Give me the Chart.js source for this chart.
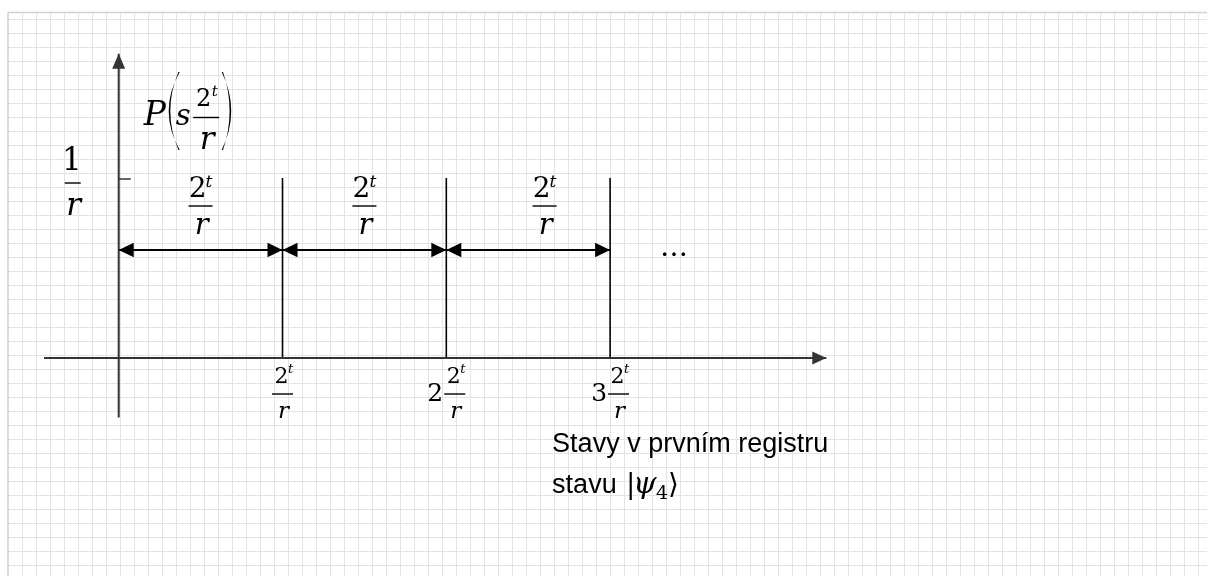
<!DOCTYPE html>
<html>
<head>
<meta charset="utf-8">
<title>Stavy v prvním registru</title>
<script src="https://cdn.jsdelivr.net/npm/chart.js@4.4.1/dist/chart.umd.min.js"></script>
<style>
  html, body { margin: 0; padding: 0; background: #fff; }
  canvas { display: block; }
</style>
</head>
<body>
<canvas id="diagram" width="1207" height="576"></canvas>
<script>
// peaks at multiples of 2^t / r, each of height 1/r
var peakMultiples = [1, 2, 3];
var peakHeight = 1;
// double arrows between neighbouring peaks and where their 2^t/r labels sit
var intervalLevel = 0.6;
var intervalLabelX = [0.5, 1.5, 2.6];
// coefficient written in front of each tick label
var tickCoefficients = ['', '2', '3'];
// how far the drawn axes reach
var xAxisExtent = [-0.456, 4.32];
var yAxisExtent = [-0.33, 1.69];
// "..." after the last interval
var ellipsisX = 3.39;

var SERIF = '"DejaVu Serif", "Liberation Serif", serif';
var SANS = '"Liberation Sans", Arial, sans-serif';
var INK = '#000000';
var AXIS = '#333333';

// build the line datasets from the arrays above
var datasets = [];
datasets.push({ data: [{ x: xAxisExtent[0], y: 0 }, { x: xAxisExtent[1], y: 0 }], borderColor: AXIS, borderWidth: 2, arrowEnd: [14, 6.5] });
datasets.push({ data: [{ x: 0, y: yAxisExtent[0] }, { x: 0, y: yAxisExtent[1] }], borderColor: AXIS, borderWidth: 2, arrowEnd: [15, 6.5] });
peakMultiples.forEach(function (k) {
    datasets.push({ data: [{ x: k, y: 0 }, { x: k, y: peakHeight }], borderColor: INK, borderWidth: 1.6 });
    datasets.push({ data: [{ x: k - 1, y: intervalLevel }, { x: k, y: intervalLevel }], borderColor: INK, borderWidth: 2, arrowStart: [15, 7.3], arrowEnd: [15, 7.3] });
});
datasets.forEach(function (d) {
    d.showLine = true;
    d.pointRadius = 0;
    d.pointHoverRadius = 0;
    d.fill = false;
});

// squared paper behind everything
var gridPaper = {
    id: 'gridPaper',
    beforeDraw: function (chart) {
        var ctx = chart.ctx, w = chart.width, h = chart.height;
        ctx.save();
        ctx.fillStyle = '#ffffff';
        ctx.fillRect(0, 0, w, h);
        ctx.strokeStyle = '#e3e3e3';
        ctx.lineWidth = 1;
        ctx.beginPath();
        for (var x = 22.5; x < w; x += 14) { ctx.moveTo(x, 12); ctx.lineTo(x, h); }
        for (var y = 19.5; y < h; y += 14) { ctx.moveTo(8, y); ctx.lineTo(w, y); }
        ctx.stroke();
        ctx.strokeStyle = '#d2d2d2';
        ctx.lineWidth = 1.5;
        ctx.beginPath();
        ctx.moveTo(7.5, 12.5); ctx.lineTo(w, 12.5);
        ctx.moveTo(8, 12.5); ctx.lineTo(8, h);
        ctx.stroke();
        ctx.restore();
    }
};

function arrowHead(ctx, tip, from, size, color) {
    var a = Math.atan2(tip.y - from.y, tip.x - from.x);
    ctx.save();
    ctx.translate(tip.x, tip.y);
    ctx.rotate(a);
    ctx.beginPath();
    ctx.moveTo(0, 0);
    ctx.lineTo(-size[0], -size[1]);
    ctx.lineTo(-size[0], size[1]);
    ctx.closePath();
    ctx.fillStyle = color;
    ctx.fill();
    ctx.restore();
}

// arrow heads on the ends of the line datasets
var arrowHeads = {
    id: 'arrowHeads',
    afterDatasetsDraw: function (chart) {
        var ctx = chart.ctx;
        chart.data.datasets.forEach(function (d, i) {
            var pts = chart.getDatasetMeta(i).data;
            var first = pts[0], last = pts[pts.length - 1];
            if (d.arrowEnd) arrowHead(ctx, last, first, d.arrowEnd, d.borderColor);
            if (d.arrowStart) arrowHead(ctx, first, last, d.arrowStart, d.borderColor);
        });
    }
};

// a "2^t over r" fraction centred on cx with its bar at barY
function fraction(ctx, cx, barY, st, top) {
    ctx.fillStyle = INK;
    ctx.textAlign = 'right';
    ctx.font = st.num + 'px ' + SERIF;
    ctx.fillText(top || '2', cx + st.numDx, barY + st.numDy);
    if (st.sup) {
        ctx.textAlign = 'left';
        ctx.font = 'italic ' + st.sup + 'px ' + SERIF;
        ctx.fillText('t', cx + st.supDx, barY + st.supDy);
    }
    ctx.fillRect(cx - st.barW / 2, barY - 0.7, st.barW, 1.4);
    ctx.textAlign = 'center';
    ctx.font = 'italic ' + st.den + 'px ' + SERIF;
    ctx.fillText('r', cx + 1, barY + st.denDy);
}

var intervalStyle = { num: 28, numDx: 6, numDy: -9, sup: 17, supDx: 5, supDy: -19, barW: 24, den: 29, denDy: 28 };
var tickStyle = { num: 22, numDx: 6, numDy: -11, sup: 13, supDx: 5.5, supDy: -21, barW: 21, den: 23, denDy: 24 };
var pStyle = { num: 24, numDx: 5, numDy: -12, sup: 15, supDx: 5.5, supDy: -22, barW: 26, den: 31, denDy: 31 };
var oneStyle = { num: 31, numDx: 9, numDy: -13, sup: 0, barW: 16, den: 31, denDy: 32 };

// tall round bracket as a filled crescent
function bigParen(ctx, x, top, bottom, bulge, left) {
    var mid = (top + bottom) / 2;
    var s = left ? -1 : 1;
    ctx.beginPath();
    ctx.moveTo(x, top);
    ctx.quadraticCurveTo(x + s * bulge * 2, mid, x, bottom);
    ctx.lineTo(x + s * 1.3, bottom);
    ctx.quadraticCurveTo(x + s * (bulge * 2 - 4.5), mid, x + s * 1.3, top);
    ctx.closePath();
    ctx.fillStyle = INK;
    ctx.fill();
}

// all the written maths and the caption
var labels = {
    id: 'labels',
    afterDraw: function (chart) {
        var ctx = chart.ctx;
        var xs = chart.scales.x, ys = chart.scales.y;
        var px = function (v) { return xs.getPixelForValue(v); };
        var py = function (v) { return ys.getPixelForValue(v); };
        ctx.save();

        // tick at 1/r on the vertical axis
        ctx.strokeStyle = AXIS;
        ctx.lineWidth = 1.5;
        ctx.beginPath();
        ctx.moveTo(px(0), py(peakHeight) + 1);
        ctx.lineTo(px(0) + 12, py(peakHeight) + 1);
        ctx.stroke();

        // 1/r
        fraction(ctx, px(0) - 46, py(peakHeight) + 5, oneStyle, '1');

        // P( s 2^t/r )
        var pY = py(peakHeight) - 53;
        ctx.fillStyle = INK;
        ctx.textAlign = 'left';
        ctx.font = 'italic 33px ' + SERIF;
        ctx.fillText('P', px(0) + 25, pY);
        bigParen(ctx, px(0) + 61, pY - 53, pY + 25, 11, true);
        ctx.font = 'italic 29px ' + SERIF;
        ctx.fillText('s', px(0) + 57, pY);
        fraction(ctx, px(0) + 87.5, pY - 7.5, pStyle);
        bigParen(ctx, px(0) + 103, pY - 53, pY + 25, 9.5, false);

        // 2^t/r over each double arrow
        intervalLabelX.forEach(function (v) {
            fraction(ctx, px(v), py(intervalLevel) - 44, intervalStyle);
        });

        // ellipsis
        ctx.fillStyle = INK;
        ctx.textAlign = 'center';
        ctx.font = '28px ' + SERIF;
        ctx.fillText('\u2026', px(ellipsisX), py(intervalLevel) + 6);

        // tick labels k * 2^t/r under the horizontal axis
        var barY = py(0) + 36;
        peakMultiples.forEach(function (k, i) {
            var c = tickCoefficients[i];
            ctx.font = '25px ' + SERIF;
            var cw = c ? ctx.measureText(c).width : 0;
            var total = cw + (c ? 1 : 0) + tickStyle.barW;
            var left = px(k) - total / 2;
            if (c) {
                ctx.fillStyle = INK;
                ctx.textAlign = 'left';
                ctx.fillText(c, left, barY + 7);
            }
            fraction(ctx, left + total - tickStyle.barW / 2, barY, tickStyle);
        });

        // caption
        var capX = px(3) - 58;
        ctx.fillStyle = INK;
        ctx.textAlign = 'left';
        ctx.font = '27px ' + SANS;
        ctx.fillText('Stavy v prvním registru', capX, py(0) + 93.5);
        var line2 = py(0) + 135;
        ctx.fillText('stavu', capX, line2);
        ctx.font = '28px ' + SERIF;
        ctx.fillText('|', capX + 74, line2);
        ctx.font = 'italic 30px ' + SERIF;
        ctx.fillText('\u03C8', capX + 81, line2);
        ctx.font = '19px ' + SERIF;
        ctx.fillText('4', capX + 104, line2 + 6);
        ctx.font = '28px ' + SERIF;
        ctx.fillText('\u27E9', capX + 116, line2);
        ctx.restore();
    }
};

new Chart(document.getElementById('diagram').getContext('2d'), {
    type: 'scatter',
    data: { datasets: datasets },
    options: {
        responsive: false,
        animation: false,
        events: [],
        layout: { padding: 0 },
        scales: {
            x: { type: 'linear', display: false, min: -0.7247, max: 6.644 },
            y: { type: 'linear', display: false, min: -1.2111, max: 1.9889 }
        },
        plugins: {
            legend: { display: false },
            tooltip: { enabled: false }
        }
    },
    plugins: [gridPaper, arrowHeads, labels]
});
</script>
</body>
</html>
